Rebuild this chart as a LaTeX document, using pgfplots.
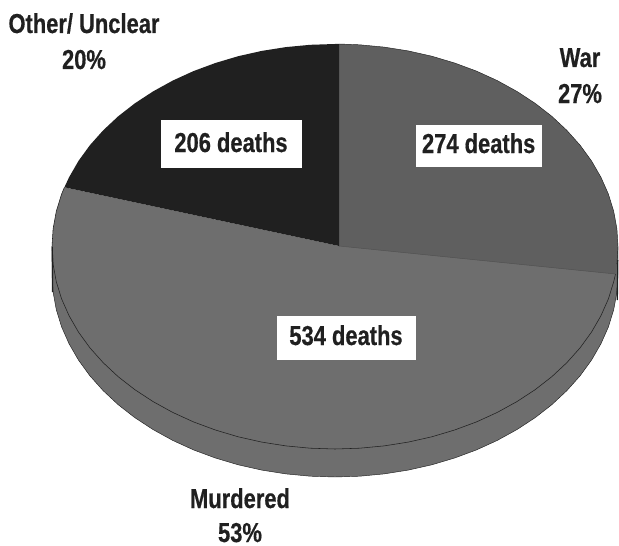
\documentclass[border=0pt]{standalone}
\usepackage{fontspec}
\setmainfont[FakeStretch=0.8,BoldFeatures={FakeBold=0.5}]{Liberation Sans}
\usepackage{pgfplots}
\pgfplotsset{compat=1.18}
\definecolor{warc}{HTML}{5F5F5F}
\definecolor{murderc}{HTML}{6E6E6E}
\definecolor{otherc}{HTML}{202020}
\newcommand{\lbl}[1]{\fontsize{27.5}{32}\selectfont\bfseries #1}
\tikzset{txt/.style={inner sep=0pt, anchor=base, text=otherc}}
\begin{document}
\begin{tikzpicture}
\useasboundingbox (0,0) rectangle (619bp,546bp);
\begin{axis}[
    at={(0,0)}, anchor=south west,
    scale only axis,
    width=619bp, height=546bp,
    xmin=0, xmax=619, ymin=0, ymax=546,
    y dir=reverse,
    axis lines=none,
    clip=false,
]
% rim below the pie
\addplot[fill=murderc, draw=otherc, line width=0.45pt] coordinates {
    (618,246.5) (618,274.5) (616.9,292.2) (613.7,309.7) (608.4,326.9) (600.9,343.8) (591.5,360.1)
    (580.1,375.8) (566.8,390.7) (551.8,404.7) (535.1,417.7) (516.9,429.6) (497.3,440.4) (476.5,449.9)
    (454.6,458) (431.8,464.8) (408.2,470.1) (384.1,473.9) (359.7,476.2) (335,477) (310.3,476.2)
    (285.9,473.9) (261.8,470.1) (238.2,464.8) (215.4,458) (193.5,449.9) (172.7,440.4) (153.1,429.6)
    (134.9,417.7) (118.2,404.7) (103.2,390.7) (89.9,375.8) (78.5,360.1) (69.1,343.8) (61.6,326.9)
    (56.3,309.7) (53.1,292.2) (52,274.5) (52,246.5)
} -- cycle;
% Murdered slice
\addplot[fill=murderc, draw=none] coordinates {
    (339,246) (64.4,187.3) (61.6,194.1) (56.3,211.3) (53.1,228.8) (52,246.5) (53.1,264.2) (56.3,281.7)
    (61.6,298.9) (69.1,315.8) (78.5,332.1) (89.9,347.8) (103.2,362.7) (118.2,376.7) (134.9,389.7)
    (153.1,401.6) (172.7,412.4) (193.5,421.9) (215.4,430) (238.2,436.8) (261.8,442.1) (285.9,445.9)
    (310.3,448.2) (335,449) (359.7,448.2) (384.1,445.9) (408.2,442.1) (431.8,436.8) (454.6,430)
    (476.5,421.9) (497.3,412.4) (516.9,401.6) (535.1,389.7) (551.8,376.7) (566.8,362.7) (580.1,347.8)
    (591.5,332.1) (600.9,315.8) (608.4,298.9) (613.7,281.7) (615.5,274)
} -- cycle;
% edge of the top face over the rim
\addplot[draw=otherc, line width=0.55pt] coordinates {
    (64.4,187.3) (61.6,194.1) (56.3,211.3) (53.1,228.8) (52,246.5) (53.1,264.2) (56.3,281.7)
    (61.6,298.9) (69.1,315.8) (78.5,332.1) (89.9,347.8) (103.2,362.7) (118.2,376.7) (134.9,389.7)
    (153.1,401.6) (172.7,412.4) (193.5,421.9) (215.4,430) (238.2,436.8) (261.8,442.1) (285.9,445.9)
    (310.3,448.2) (335,449) (359.7,448.2) (384.1,445.9) (408.2,442.1) (431.8,436.8) (454.6,430)
    (476.5,421.9) (497.3,412.4) (516.9,401.6) (535.1,389.7) (551.8,376.7) (566.8,362.7) (580.1,347.8)
    (591.5,332.1) (600.9,315.8) (608.4,298.9) (613.7,281.7) (615.5,274)
};
% heavier bits at the two sides
\addplot[draw=otherc, line width=1.3pt] coordinates {(52.3,247) (52.6,292)};
\addplot[draw=otherc, line width=1.3pt] coordinates {(617.6,260) (617.3,300)};
% War slice
\addplot[fill=warc, draw=none] coordinates {
    (339,246) (339,44) (359.7,44.8) (384.1,47.1) (408.2,50.9) (431.8,56.2) (454.6,63) (476.5,71.1)
    (497.3,80.6) (516.9,91.4) (535.1,103.3) (551.8,116.3) (566.8,130.3) (580.1,145.2) (591.5,160.9)
    (600.9,177.2) (608.4,194.1) (613.7,211.3) (616.9,228.8) (618,246.5) (616.9,264.2) (615.5,274)
} -- cycle;
\addplot[draw=otherc, line width=0.45pt] coordinates {
    (339,44) (359.7,44.8) (384.1,47.1) (408.2,50.9) (431.8,56.2) (454.6,63) (476.5,71.1)
    (497.3,80.6) (516.9,91.4) (535.1,103.3) (551.8,116.3) (566.8,130.3) (580.1,145.2) (591.5,160.9)
    (600.9,177.2) (608.4,194.1) (613.7,211.3) (616.9,228.8) (618,246.5) (616.9,264.2)
};
\addplot[draw=warc!85!black, line width=0.5pt] coordinates {(339,246) (615.5,274)};
% Other slice
\addplot[fill=otherc, draw=none] coordinates {
    (339,246) (339,44) (335,44) (310.3,44.8) (285.9,47.1) (261.8,50.9) (238.2,56.2) (215.4,63)
    (193.5,71.1) (172.7,80.6) (153.1,91.4) (134.9,103.3) (118.2,116.3) (103.2,130.3) (89.9,145.2)
    (78.5,160.9) (69.1,177.2) (64.4,187.3)
} -- cycle;
% white label boxes
\addplot[fill=white, draw=none] coordinates {(161,120) (302,120) (302,168) (161,168)} -- cycle;
\addplot[fill=white, draw=none] coordinates {(416,125) (541.5,125) (541.5,167) (416,167)} -- cycle;
\addplot[fill=white, draw=none] coordinates {(277,316) (416,316) (416,360) (277,360)} -- cycle;
\node[txt] at (axis cs:231,152) {\lbl{206 deaths}};
\node[txt] at (axis cs:478.7,153) {\lbl{274 deaths}};
\node[txt] at (axis cs:346,345) {\lbl{534 deaths}};
\node[txt] at (axis cs:84,33) {\lbl{Other/ Unclear}};
\node[txt] at (axis cs:84,69) {\lbl{20\%}};
\node[txt] at (axis cs:580,67) {\lbl{War}};
\node[txt] at (axis cs:580,103) {\lbl{27\%}};
\node[txt] at (axis cs:240,508) {\lbl{Murdered}};
\node[txt] at (axis cs:240,542) {\lbl{53\%}};
\end{axis}
\end{tikzpicture}
\end{document}
